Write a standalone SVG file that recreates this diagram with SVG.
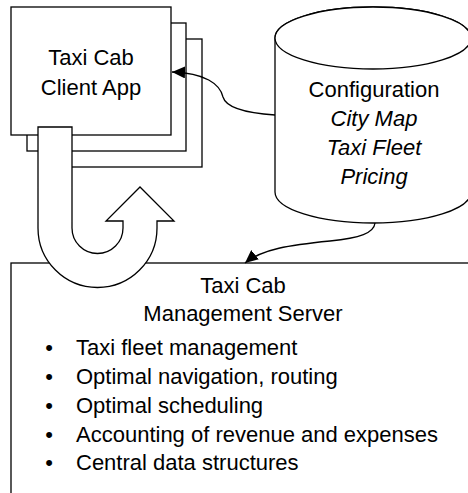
<svg xmlns="http://www.w3.org/2000/svg" width="468" height="493" viewBox="0 0 468 493">
<defs>
<style>
.box{fill:#fff;stroke:#000;stroke-width:1.3}
.t{font-family:"Liberation Sans",Arial,sans-serif;font-size:22px;fill:#000}
.c{text-anchor:middle}
.i{font-style:italic}
.conn{fill:none;stroke:#000;stroke-width:1.3}
</style>
<marker id="ah" markerUnits="userSpaceOnUse" markerWidth="14" markerHeight="12" refX="13" refY="6" orient="auto">
<path d="M0,0 L13,6 L0,12 Z" fill="#000"/>
</marker>
</defs>
<g id="server">
<rect class="box" x="11" y="263" width="470" height="250"/>
<text class="t c" x="243" y="293">Taxi Cab</text>
<text class="t c" x="243" y="321">Management Server</text>
<g class="t">
<text x="49" y="355" text-anchor="middle">•</text><text x="76" y="355">Taxi fleet management</text>
<text x="49" y="384" text-anchor="middle">•</text><text x="76" y="384">Optimal navigation, routing</text>
<text x="49" y="413" text-anchor="middle">•</text><text x="76" y="413">Optimal scheduling</text>
<text x="49" y="442" text-anchor="middle">•</text><text x="76" y="442">Accounting of revenue and expenses</text>
<text x="49" y="470" text-anchor="middle">•</text><text x="76" y="470">Central data structures</text>
</g>
</g>
<g id="config">
<path class="box" d="M275,38 V192 A98,31 0 0 0 471,192 V38 A98,31 0 0 0 275,38 Z"/>
<ellipse class="box" cx="373" cy="38" rx="98" ry="31"/>
<text class="t c" x="374" y="97">Configuration</text>
<text class="t c i" x="374" y="126">City Map</text>
<text class="t c i" x="374" y="155">Taxi Fleet</text>
<text class="t c i" x="374" y="184">Pricing</text>
</g>
<g id="client">
<rect class="box" x="43" y="39" width="159" height="128"/>
<rect class="box" x="27" y="23" width="159" height="128"/>
<rect class="box" x="11" y="7" width="160" height="128"/>
<text class="t c" x="91" y="65">Taxi Cab</text>
<text class="t c" x="91" y="95">Client App</text>
</g>
<g id="connectors">
<path class="conn" d="M275,115 C245,113 226,108 223,97 C220,84 205,73 172,72" marker-end="url(#ah)"/>
<path class="conn" d="M375,223 C374,233 360,238 330,241 C290,245 262,249 245,263" marker-end="url(#ah)"/>
</g>
<g id="uturn">
<path class="box" d="M38,127 H72 V228 A25.5,25.5 0 0 0 123,228 V221 H106 L140,187 L174,221 H157 V228 A59.5,59.5 0 0 1 38,228 Z"/>
</g>
</svg>
